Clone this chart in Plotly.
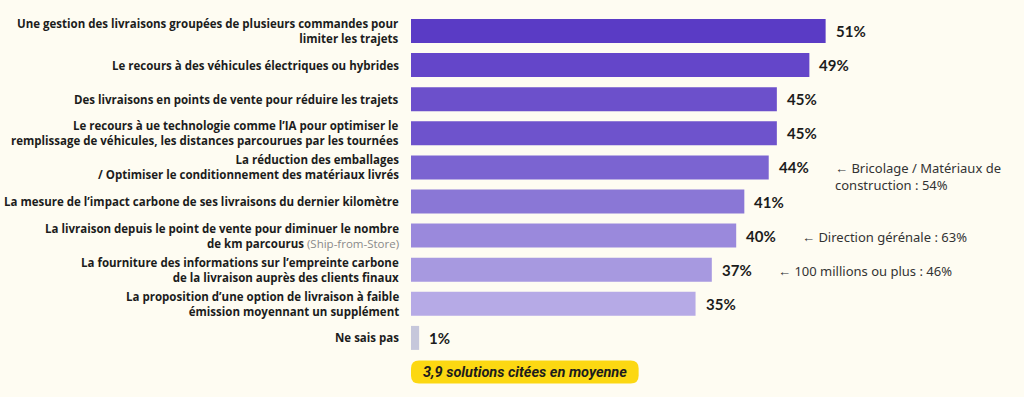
import plotly.graph_objects as go

categories = [
    "<b>Une gestion des livraisons groupées de plusieurs commandes pour<br>limiter les trajets</b>",
    "<b>Le recours à des véhicules électriques ou hybrides</b>",
    "<b>Des livraisons en points de vente pour réduire les trajets</b>",
    "<b>Le recours à ue technologie comme l’IA pour optimiser le<br>remplissage de véhicules, les distances parcourues par les tournées</b>",
    "<b>La réduction des emballages<br>/ Optimiser le conditionnement des matériaux livrés</b>",
    "<b>La mesure de l’impact carbone de ses livraisons du dernier kilomètre</b>",
    "<b>La livraison depuis le point de vente pour diminuer le nombre<br>de km parcourus</b> <span style='color:#8a8a8a;font-weight:normal'>(Ship-from-Store)</span>",
    "<b>La fourniture des informations sur l’empreinte carbone<br>de la livraison auprès des clients finaux</b>",
    "<b>La proposition d’une option de livraison à faible<br>émission moyennant un supplément</b>",
    "<b>Ne sais pas</b>",
]
values = [51, 49, 45, 45, 44, 41, 40, 37, 35, 1]
value_labels = ["51%", "49%", "45%", "45%", "44%", "41%", "40%", "37%", "35%", "1%"]
notes = ["", "", "", "", "← Bricolage / Matériaux de<br>construction : 54%", "",
         "← Direction gérénale : 63%", "← 100 millions ou plus : 46%", "", ""]
bar_colors = ["#5a3bc5", "#6446c9", "#6c50cb", "#6e53cc", "#7b64d1", "#8a77d6",
              "#9a89dc", "#a799e0", "#b6aae6", "#c6c7db"]
summary_text = "3,9 solutions citées en moyenne"
summary_width = 28.0  # in % units

BG = "#fefcf2"
PX_PER_UNIT = 8.13
W, H = 1024, 397
L = 411
x_max = (W - L) / PX_PER_UNIT
row = 34.1
y_top = -31 / row
y_bot = (H - 31) / row

ypos = list(range(len(values)))

fig = go.Figure()
fig.add_trace(go.Bar(
    x=values, y=ypos, orientation="h",
    marker=dict(color=bar_colors, line=dict(width=0)),
    width=24 / row, hoverinfo="skip",
))

ann = []
for i, (c, v, vl, n) in enumerate(zip(categories, values, value_labels, notes)):
    ann.append(dict(x=0, y=i, xref="x", yref="y", text=c, showarrow=False,
                    xanchor="right", yanchor="middle", align="right", xshift=-10,
                    font=dict(family="Open Sans", size=11.5, color="#1c1c1c")))
    ann.append(dict(x=v, y=i, xref="x", yref="y", text="<b>" + vl + "</b>", showarrow=False,
                    xanchor="left", yanchor="middle", xshift=8,
                    font=dict(family="Lato", size=15, color="#1c1c1c")))
    if n:
        ann.append(dict(x=v, y=i, xref="x", yref="y", text=n, showarrow=False,
                        xanchor="left", yanchor="top", align="left", xshift=64, yshift=10,
                        font=dict(family="Noto Sans", size=13, color="#333333")))

# summary pill
yc = len(values)
hh = 11.5 / row
rx = 8 / PX_PER_UNIT
ry = 8 / row
x0, x1 = 0, summary_width
y0, y1 = yc - hh, yc + hh
path = (f"M {x0+rx},{y0} L {x1-rx},{y0} Q {x1},{y0} {x1},{y0+ry} "
        f"L {x1},{y1-ry} Q {x1},{y1} {x1-rx},{y1} L {x0+rx},{y1} "
        f"Q {x0},{y1} {x0},{y1-ry} L {x0},{y0+ry} Q {x0},{y0} {x0+rx},{y0} Z")
fig.add_shape(type="path", path=path, xref="x", yref="y",
              fillcolor="#fcd812", line=dict(width=0), layer="below")
ann.append(dict(x=summary_width / 2, y=yc, xref="x", yref="y",
                text="<b><i>" + summary_text + "</i></b>", showarrow=False,
                xanchor="center", yanchor="middle",
                font=dict(family="Roboto", size=14.5, color="#1c1c1c")))

fig.update_layout(
    width=W, height=H,
    margin=dict(l=L, r=0, t=0, b=0),
    paper_bgcolor=BG, plot_bgcolor=BG,
    showlegend=False,
    annotations=ann,
    xaxis=dict(range=[0, x_max], visible=False, fixedrange=True),
    yaxis=dict(range=[y_bot, y_top], visible=False, fixedrange=True),
)
fig.write_html(
    "out.html",
    config={"displayModeBar": False},
    post_script="document.body.style.margin='0';document.body.style.background='%s';" % BG,
)
